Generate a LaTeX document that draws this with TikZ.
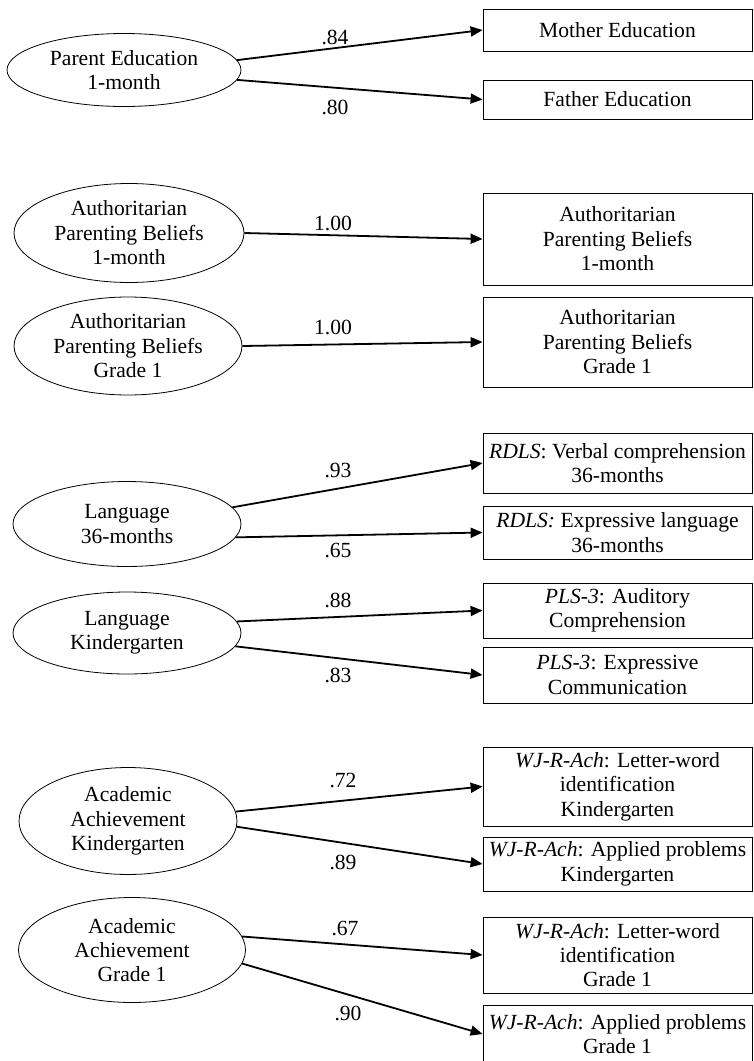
\documentclass[tikz,border=0pt]{standalone}
\usepackage{fontspec}
\setmainfont{Liberation Serif}
\usetikzlibrary{shapes.geometric,arrows.meta}

\begin{document}
\begin{tikzpicture}[x=0.5pt,y=-0.5pt,
  font=\fontsize{10.8}{12.2}\selectfont,
  latent/.style={draw,ellipse,align=center,inner sep=0pt},
  obs/.style={draw,rectangle,align=center,minimum width=134.5pt,inner sep=1pt},
  load/.style={-{Triangle[length=6pt,width=5pt]},line width=0.9pt},
  coef/.style={inner sep=1pt}]
  \useasboundingbox (0,0) rectangle (754,1061);
  % latent factors
  \node[latent,minimum width=117pt,minimum height=36.5pt] (pe) at (124,70) {Parent Education\\1-month};
  \node[latent,minimum width=115pt,minimum height=49.5pt] (ap1) at (129,233) {Authoritarian\\Parenting Beliefs\\1-month};
  \node[latent,minimum width=114pt,minimum height=49pt] (apg) at (128,346) {Authoritarian\\Parenting Beliefs\\Grade 1};
  \node[latent,minimum width=114pt,minimum height=42.5pt] (l36) at (127,524) {Language\\36-months};
  \node[latent,minimum width=114pt,minimum height=41pt] (lk) at (127,633) {Language\\Kindergarten};
  \node[latent,minimum width=109pt,minimum height=53.5pt] (ak) at (128,821) {Academic\\Achievement\\Kindergarten};
  \node[latent,minimum width=113.5pt,minimum height=52.5pt] (ag) at (132,950) {Academic\\Achievement\\Grade 1};
  % indicators
  \node[obs,minimum height=21pt] (me) at (617.5,30) {Mother Education};
  \node[obs,minimum height=19.5pt] (fe) at (617.5,99.5) {Father Education};
  \node[obs,minimum height=46pt] (ar1) at (617.5,239) {Authoritarian\\Parenting Beliefs\\1-month};
  \node[obs,minimum height=45pt] (arg) at (617.5,342) {Authoritarian\\Parenting Beliefs\\Grade 1};
  \node[obs,minimum height=30pt] (rv) at (617.5,463) {\textit{RDLS}: Verbal comprehension\\36-months};
  \node[obs,minimum height=26.5pt] (re) at (617.5,532.5) {\textit{RDLS:} Expressive language\\36-months};
  \node[obs,minimum height=27.5pt] (pa) at (617.5,610.5) {\textit{PLS-3}: Auditory\\Comprehension};
  \node[obs,minimum height=28pt] (pc) at (617.5,675) {\textit{PLS-3}: Expressive\\Communication};
  \node[obs,minimum height=39.5pt] (wlk) at (617.5,786.5) {\textit{WJ-R-Ach}: Letter-word\\identification\\Kindergarten};
  \node[obs,minimum height=27pt] (wak) at (617.5,864) {\textit{WJ-R-Ach}: Applied problems\\Kindergarten};
  \node[obs,minimum height=38pt] (wlg) at (617.5,955) {\textit{WJ-R-Ach}: Letter-word\\identification\\Grade 1};
  \node[obs,minimum height=29pt] (wag) at (617.5,1034) {\textit{WJ-R-Ach}: Applied problems\\Grade 1};
  % loadings
  \draw[load] (pe.5) -- (me.west);
  \draw[load] (pe.-5) -- (fe.west);
  \draw[load] (ap1.east) -- (ar1.west);
  \draw[load] (apg.east) -- (arg.west);
  \draw[load] (l36.9) -- (rv.west);
  \draw[load] (l36.-7) -- (re.west);
  \draw[load] (lk.6) -- (pa.west);
  \draw[load] (lk.-7) -- (pc.west);
  \draw[load] (ak.5) -- (wlk.west);
  \draw[load] (ak.-3) -- (wak.west);
  \draw[load] (ag.7) -- (wlg.west);
  \draw[load] (ag.-7) -- (wag.west);
  \node[coef] (c1) at (335,37) {.84};
  \node[coef] (c2) at (335,107) {.80};
  \node[coef] (c3) at (333,223) {1.00};
  \node[coef] (c4) at (333,327) {1.00};
  \node[coef] (c5) at (338,470) {.93};
  \node[coef] (c6) at (338,550) {.65};
  \node[coef] (c7) at (338,600) {.88};
  \node[coef] (c8) at (338,675) {.83};
  \node[coef] (c9) at (343,780) {.72};
  \node[coef] (c10) at (343,862) {.89};
  \node[coef] (c11) at (345,928) {.67};
  \node[coef] (c12) at (348,1013) {.90};
\end{tikzpicture}
\end{document}
